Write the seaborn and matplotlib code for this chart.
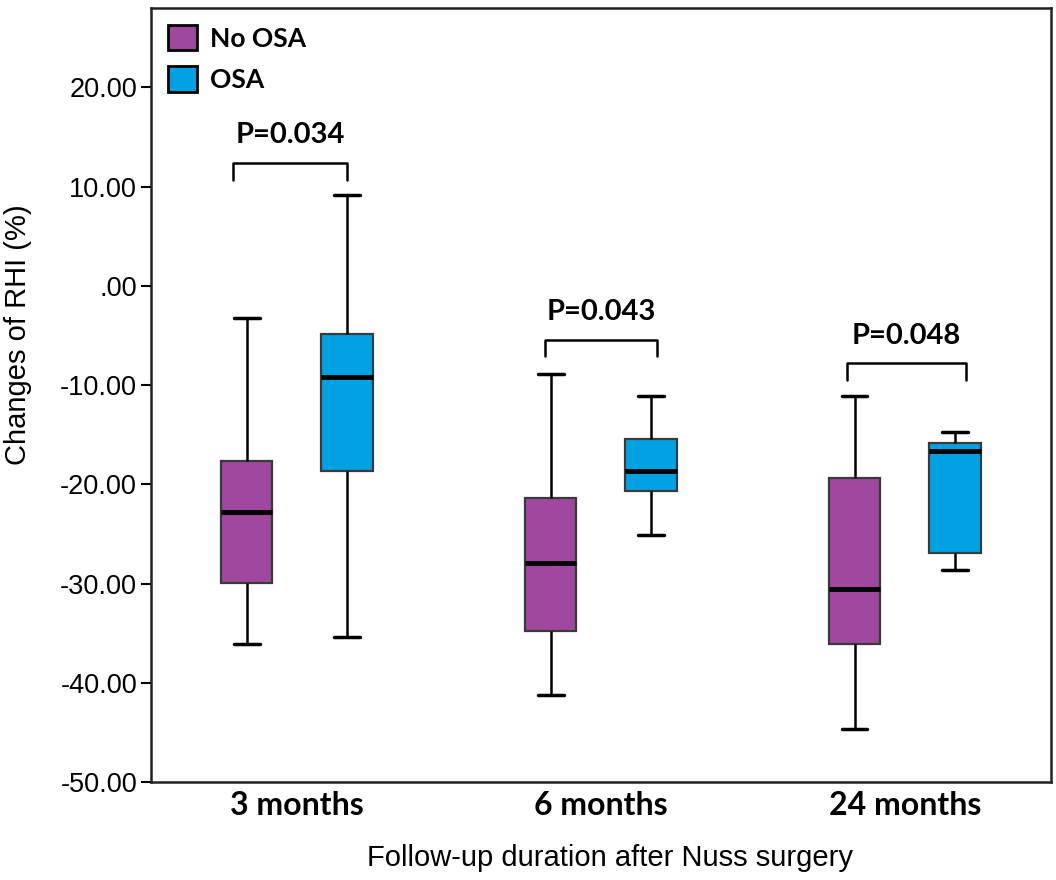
import matplotlib

matplotlib.use("Agg")
import matplotlib.pyplot as plt
import pandas as pd
import seaborn as sns
from matplotlib.patches import Patch

sns.set_theme(style="white")
plt.rcParams["font.family"] = ["Liberation Sans", "DejaVu Sans"]
plt.rcParams["text.color"] = "black"
plt.rcParams["axes.labelcolor"] = "black"
plt.rcParams["xtick.color"] = "black"
plt.rcParams["ytick.color"] = "black"

months = ["3 months", "6 months", "24 months"]
groups = ["No OSA", "OSA"]
colors = ["#A0489F", "#00A2E3"]

# five-number summaries
no_osa_min = [-36.1, -41.2, -44.6]
no_osa_q1 = [-29.9, -34.8, -36.1]
no_osa_med = [-22.8, -27.9, -30.5]
no_osa_q3 = [-17.6, -21.4, -19.3]
no_osa_max = [-3.2, -8.9, -11.1]

osa_min = [-35.4, -25.1, -28.6]
osa_q1 = [-18.6, -20.7, -26.9]
osa_med = [-9.2, -18.6, -16.6]
osa_q3 = [-4.8, -15.4, -15.8]
osa_max = [9.2, -11.1, -14.7]

p_labels = ["P=0.034", "P=0.043", "P=0.048"]
bracket_top = [12.4, -5.4, -7.8]
bracket_left = [-0.21, 0.815, 1.81]
bracket_right = [0.165, 1.185, 2.20]

rows = []
summaries = {
    "No OSA": (no_osa_min, no_osa_q1, no_osa_med, no_osa_q3, no_osa_max),
    "OSA": (osa_min, osa_q1, osa_med, osa_q3, osa_max),
}
for g, stats in summaries.items():
    for i, m in enumerate(months):
        for s in stats:
            rows.append({"month": m, "group": g, "change": s[i]})
df = pd.DataFrame(rows)

fig, ax = plt.subplots(figsize=(10.56, 8.8), dpi=100)
fig.subplots_adjust(left=0.143, right=0.995, bottom=0.111, top=0.991)

sns.boxplot(
    data=df, x="month", y="change", hue="group", order=months, hue_order=groups,
    palette=colors, saturation=1, width=0.66, gap=0.49, whis=(0, 100),
    linecolor="black", linewidth=1.8, legend=False, ax=ax,
    boxprops={"edgecolor": "#3a3a3a", "linewidth": 1.6},
    medianprops={"color": "black", "linewidth": 3.5},
    whiskerprops={"color": "black", "linewidth": 1.8},
    capprops={"color": "black", "linewidth": 2.5},
)

bold_family = ["Lato", "DejaVu Sans"]
for x0, x1, y, lab in zip(bracket_left, bracket_right, bracket_top, p_labels):
    ax.plot([x0, x0, x1, x1], [y - 1.7, y, y, y - 1.7], color="black", lw=1.8)
    ax.text((x0 + x1) / 2, y + 2.8, lab, ha="center", va="center",
            fontsize=21, fontweight="bold", family=bold_family)

ax.set_xlim(-0.48, 2.48)
ax.set_ylim(-50, 28)
ax.set_yticks(range(-50, 21, 10))
ax.set_yticklabels([f"{v:.2f}" if v != 0 else ".00" for v in range(-50, 21, 10)],
                   fontsize=19.5)
ax.tick_params(axis="y", which="major", left=True, length=7, width=1.5,
               color="black", pad=3)
ax.tick_params(axis="x", length=0, pad=6)
for lab in ax.get_xticklabels():
    lab.set_fontsize(23)
    lab.set_fontweight("bold")
    lab.set_family(bold_family)

ax.set_ylabel("Changes of RHI (%)", fontsize=21)
ax.yaxis.set_label_coords(-0.132, 0.578)
ax.set_xlabel("Follow-up duration after Nuss surgery", fontsize=21)
ax.xaxis.set_label_coords(0.51, -0.08)

for sp in ax.spines.values():
    sp.set_color("#222222")
    sp.set_linewidth(1.8)

handles = [Patch(facecolor=c, edgecolor="black", linewidth=2, label=g)
           for c, g in zip(colors, groups)]
ax.legend(handles=handles, loc="upper left", bbox_to_anchor=(0.019, 0.978),
          frameon=False, borderpad=0, borderaxespad=0, handlelength=1.1,
          handleheight=1.1, labelspacing=0.6, handletextpad=0.5,
          prop={"family": bold_family, "weight": "bold", "size": 19})

fig.savefig("out.png", dpi=100)
plt.close(fig)
